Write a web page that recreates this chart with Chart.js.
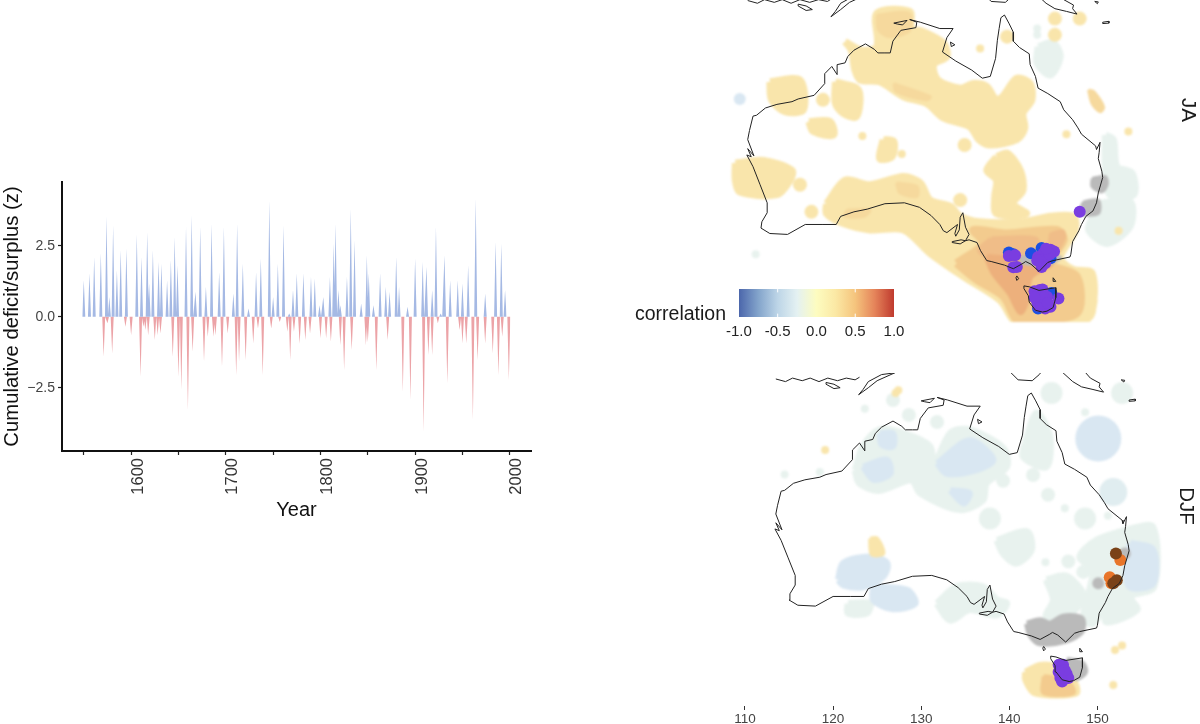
<!DOCTYPE html>
<html><head><meta charset="utf-8">
<style>
html,body{margin:0;padding:0;background:#fff;width:1200px;height:724px;overflow:hidden;font-family:"Liberation Sans",sans-serif}
canvas{position:absolute;display:block}
.soft{filter:blur(0.8px)}
.t{position:absolute;white-space:nowrap;color:#1a1a1a;line-height:1}
</style>
<script src="https://cdn.jsdelivr.net/npm/chart.js@4"></script>
</head><body>
<canvas id="ts" style="left:0;top:170px" width="545" height="360"></canvas>
<canvas id="jaField" class="soft" style="left:730px;top:0" width="440" height="322"></canvas>
<canvas id="ja" style="left:730px;top:0" width="440" height="322"></canvas>
<canvas id="djfField" class="soft" style="left:730px;top:373px" width="440" height="333"></canvas>
<canvas id="djf" style="left:730px;top:373px" width="440" height="351"></canvas>
<canvas id="bar" style="left:720px;top:285px" width="200" height="55"></canvas>
<div class="t" style="left:635px;top:304px;font-size:19.5px">correlation</div>
<div class="t" style="left:1189px;top:110px;font-size:20.5px;transform:translate(-50%,-50%) rotate(90deg)">JA</div>
<div class="t" style="left:1187px;top:506px;font-size:20.5px;transform:translate(-50%,-50%) rotate(90deg)">DJF</div>
<script>
// ---------- time series ----------
const surplusYears=[1550,1556,1561,1568,1574,1577,1581,1585,1589,1595,1606,1611,1617,1619,1623,1629,1632,1638,1642,1646,1649,1658,1664,1668,1673,1679,1685,1693,1698,1708,1712,1718,1724,1732,1737,1746,1750,1755,1761,1767,1771,1775,1782,1790,1794,1799,1803,1810,1814,1816,1819,1821,1828,1832,1836,1843,1849,1851,1856,1863,1869,1873,1880,1883,1892,1900,1908,1912,1918,1922,1927,1931,1937,1945,1950,1956,1964,1974,1985,1991,1995];
const surplusValues=[1.29,1.53,2.11,2.25,3.54,0.7,3.23,1.64,2.35,2.41,2.91,2.11,2.99,1.17,2.35,1.94,1.88,1.29,2.0,2.82,1.82,3.17,3.58,0.88,3.17,1.06,3.29,1.58,3.17,0.82,3.29,1.88,0.29,1.58,2.05,4.11,0.7,1.88,3.23,0.12,0.94,1.53,1.53,1.41,1.35,0.41,0.7,1.41,2.58,3.29,0.94,0.41,1.41,3.82,2.7,0.47,2.17,1.53,0.41,1.53,1.06,0.88,2.11,1.06,0.35,2.05,1.94,1.76,0.94,3.17,0.12,2.17,1.29,1.29,1.17,1.82,4.17,0.82,2.64,2.58,0.94];
const deficitYears=[1571,1575,1580,1594,1600,1610,1613,1615,1618,1625,1628,1631,1644,1650,1653,1660,1665,1677,1681,1687,1689,1696,1702,1711,1714,1721,1729,1734,1739,1748,1757,1765,1768,1772,1778,1784,1789,1800,1806,1811,1821,1825,1833,1848,1850,1859,1871,1887,1895,1909,1914,1918,1924,1934,1947,1950,1954,1961,1966,1974,1982,1988,1992,1999];
const deficitValues=[-1.41,-0.23,-1.29,-0.35,-0.65,-2.11,-0.35,-0.47,-0.65,-0.82,-0.65,-0.59,-1.41,-2.11,-2.58,-3.29,-1.23,-1.58,-0.7,-0.7,-0.65,-1.76,-0.59,-2.05,-1.58,-1.53,-0.94,-0.41,-2.05,-0.41,-0.18,-0.53,-1.53,-0.53,-0.95,-0.82,-0.59,-0.76,-0.76,-0.88,-1.0,-1.88,-1.17,-1.0,-0.9,-1.88,-0.82,-2.64,-2.93,-4.05,-1.35,-1.35,-0.23,-2.35,-0.47,-0.94,-0.94,-3.64,-1.53,-0.94,-1.29,-2.05,-0.7,-2.23];
const yearTicks=[1550,1600,1650,1700,1750,1800,1850,1900,1950,2000];
const zTicks=[-2.5,0,2.5];

// ---------- colour bar ----------
const barValues=[-1,-0.75,-0.5,-0.25,0,0.25,0.5,0.75,1];
const barColors=['#4b66ab','#83a4cb','#bdd5e7','#e4f1f2','#fdfcc0','#fbe8a4','#f5c47d','#e5845a','#bf3a2e'];
const barTicks=[-1,-0.5,0,0.5,1];
const mapLonTicks=[110,120,130,140,150];

// ---------- coastlines (lon, lat) ----------
const australia=[[142.5,-10.7],[143.0,-11.6],[143.5,-12.6],[143.5,-13.6],[144.2,-14.3],[145.3,-15],[145.4,-16.2],[146.0,-17.5],[146.3,-18.8],[147.4,-19.4],[148.8,-20.3],[149.2,-21.2],[150.2,-22.3],[150.8,-23.2],[151.2,-23.9],[152.8,-25.2],[152.9,-25.6],[153.3,-24.8],[153.2,-25.9],[153.1,-26.6],[153.5,-28],[153.6,-28.7],[153.1,-30.4],[152.9,-31.5],[152.5,-32.4],[151.7,-33],[151.2,-33.9],[150.9,-34.6],[150.2,-35.8],[150,-37.2],[149.9,-37.5],[148,-37.9],[147.4,-38.1],[146.4,-39.1],[145.5,-38.3],[144.9,-38],[144.6,-38.2],[143.5,-38.8],[142.5,-38.4],[141,-38],[140.5,-37.9],[139.8,-36.8],[139.4,-35.9],[138.5,-35.6],[138.1,-35.7],[138.5,-35],[138.1,-34.2],[137.8,-32.6],[137.5,-33.1],[137.4,-34.5],[137,-35.2],[136.9,-34.9],[137.2,-33.9],[136,-34.8],[135.6,-34.6],[135.2,-33.9],[134.2,-32.9],[132.9,-32],[131.2,-31.5],[129,-31.6],[127,-32.2],[125.5,-32.5],[124,-33],[123.5,-33.9],[122,-33.9],[120,-33.9],[118,-35],[116,-34.9],[115,-34.3],[115.1,-33.6],[115.7,-32.6],[115.7,-31.5],[114.9,-29.5],[114.1,-27.5],[113.4,-26.2],[113.9,-26.4],[113.5,-25.5],[114.2,-26.3],[113.5,-24.5],[113.7,-23.5],[114.1,-21.9],[114.5,-21.8],[115.5,-21],[116.8,-20.6],[118.5,-20.3],[119.2,-20],[121,-19.6],[122.2,-18.3],[122.2,-17.2],[123,-16.4],[123.6,-17.3],[123.6,-16.2],[124.5,-16],[124.8,-15.3],[125.5,-14.6],[126.8,-13.9],[127.8,-14.5],[128.2,-14.9],[129,-14.9],[129.6,-14.9],[129.9,-13.6],[130.8,-12.4],[132.5,-12.1],[132.6,-11.5],[131.8,-11.2],[133,-11.5],[135.2,-12.2],[136.7,-12.2],[136,-13.2],[135.5,-14.8],[137,-15.8],[138.8,-16.8],[140,-17.7],[140.9,-17.5],[141.5,-15.5],[141.7,-13.5],[141.9,-12.2],[142.1,-11],[142.5,-10.7]];
const tasmania=[[144.7,-40.7],[145.3,-40.8],[146.4,-41.2],[148.3,-40.9],[148.3,-42],[148,-43.1],[147.3,-43.5],[146.8,-43.6],[146,-43.4],[145.3,-42.5],[145.2,-41.8],[144.7,-41],[144.7,-40.7]];
const kangarooIsland=[[136.6,-35.8],[137.6,-35.6],[138.1,-35.7],[137.5,-36.05],[136.6,-35.9],[136.6,-35.8]];
const kingIsland=[[143.9,-39.6],[144.1,-39.9],[143.9,-40.1],[143.8,-39.8],[143.9,-39.6]];
const flindersIsland=[[148,-39.8],[148.3,-40.2],[148,-40.2],[148,-39.8]];
const melvilleIsland=[[130,-11.6],[131.5,-11.3],[131,-11.8],[130.4,-11.7],[130,-11.6]];
const grooteEylandt=[[136.4,-13.7],[136.9,-14],[136.5,-14.2],[136.4,-13.7]];
const sumba=[[119.2,-9.5],[120.1,-9.7],[120.8,-10.1],[120.1,-10.2],[119.2,-9.7],[119.2,-9.5]];
const timor=[[122.9,-10.9],[124,-10.1],[125,-9.3],[127,-8.4],[125.5,-8.6],[124,-9.4],[123.4,-10.3],[122.9,-10.9]];
const floresChain=[[113.5,-9.1],[114.6,-9.4],[115.4,-9.0],[116.5,-9.3],[117.4,-9.0],[118.4,-9.4],[119.4,-9.0],[120.5,-9.3],[121.5,-9.0],[122.5,-9.2],[123,-8.9]];
const guineaSouth=[[140,-8.2],[141,-9.2],[142.6,-9.3],[143.4,-8.6],[144,-7.8]];
const guineaEast=[[146.1,-8.4],[147.2,-9.4],[148.2,-10],[149.5,-10.3],[150.7,-10.6],[150.2,-10.0],[150.3,-9.6],[149.2,-9.0],[148.5,-8.2]];
const rosselIsland=[[153.6,-11.5],[154.3,-11.4],[154.3,-11.6],[153.6,-11.65],[153.6,-11.5]];
const woodlarkIsland=[[152.7,-9.2],[153.1,-9.25],[153,-9.45],[152.7,-9.2]];
const coastParts=[australia,tasmania,kangarooIsland,kingIsland,flindersIsland,melvilleIsland,grooteEylandt,sumba,timor,floresChain,guineaSouth,guineaEast,rosselIsland,woodlarkIsland];

// ---------- JA map regions (lon, lat) ----------
const jaNorth=[[124.5,-13.65],[126.4,-14.6],[128.1,-14.2],[128.1,-10.5],[131.8,-10.3],[132,-12.2],[133.2,-12.5],[135.6,-13.8],[136,-15.3],[134.5,-16.2],[135,-17.9],[137.5,-18.8],[139,-18.3],[140.5,-18.6],[141.6,-20.1],[142.4,-19.6],[143.9,-17.7],[145.4,-18.3],[145.6,-20.1],[144.6,-21.6],[144.8,-23.25],[143.9,-24.5],[140.9,-25.1],[139.6,-24.5],[138.6,-23.1],[135.6,-22.1],[133.7,-20.5],[131.1,-19.75],[128.4,-18.1],[126.2,-17.9],[125.6,-16.8],[125.2,-14.6]];
const jaSouth=[[122.4,-31.6],[124.5,-29],[127.3,-29.5],[131.1,-28.6],[133,-29.3],[134.1,-31.2],[136.4,-31.9],[137.5,-33],[139.7,-33.6],[144.6,-33.6],[147.7,-33],[150.3,-33],[150.5,-34.5],[148.8,-37.5],[149.2,-38.2],[150.3,-38.9],[152.4,-39.3],[152.4,-43.7],[151.2,-44.7],[143.9,-44.7],[142,-42.3],[137.9,-39.7],[134.1,-37.1],[131.1,-34.5],[127.3,-34.5],[124.3,-33.8],[122.4,-32.7]];
const jaCentralEast=[[141.6,-26.4],[142.8,-26],[144.3,-27.9],[144.6,-30.1],[143.5,-31.6],[145,-32.7],[141.6,-32.7],[141.4,-30.8],[141.6,-29],[140.5,-27.9]];
const jaSouthWest=[[112.1,-27.1],[115.3,-26.8],[118.5,-27.9],[118.3,-29],[116.8,-30.6],[112.6,-30.3],[112.1,-29]];
const jaNorthWest=[[116,-18.1],[119.4,-17.9],[119.8,-21.2],[117.7,-21.4],[116.2,-20.1]];
const jaPilbara=[[123.4,-18.1],[126,-19],[125.8,-21.96],[124.3,-21.6],[123.4,-20.5]];
const jaInterior=[[120.4,-22.5],[122.8,-22.5],[123.2,-24],[120.9,-23.6]];
const jaCentre=[[128.8,-24.5],[130,-24.7],[129.8,-26.4],[128.4,-26.6]];
const jaWarmCores=[
 [[128.1,-10.7],[131.7,-10.5],[131.8,-12.4],[129.6,-13.1],[128.3,-12.4]],
 [[130,-18.3],[134.1,-19.75],[133.7,-20.1],[130.3,-19.2]],
 [[130.3,-29.3],[132.6,-29.7],[132.6,-30.8],[130.7,-30.4]],
 [[124.7,-32.3],[127.3,-32.3],[126.6,-33],[124.5,-33]],
 [[152,-19],[152.6,-19.2],[153.7,-20.9],[153.3,-21.4],[152.4,-20.5]]
];
const jaMidBand=[[137.1,-38.2],[140.1,-36],[139,-34.5],[142.8,-34.9],[148.4,-34.5],[149.2,-35.6],[147.7,-38.2],[150.7,-39.7],[150.7,-43.7],[145.4,-44.5],[143.9,-44.5],[142.4,-41.9],[139.4,-40.05]];
const jaHighBand=[[140.5,-37.5],[143.9,-37.8],[147.7,-38.2],[145.4,-39.7],[145,-42.3],[144.3,-43.6],[143.1,-41.5],[141.3,-39.3]];
const jaHighUpper=[[141,-35.5],[146,-35.5],[146,-36.8],[141.5,-37.6],[139.7,-36.8]];
const jaHighEast=[[147.7,-34.9],[149.1,-34.6],[149.3,-35.3],[148.2,-37.1],[147.6,-36.4]];
const jaCoolEastUpper=[[153.9,-24],[154.8,-24.5],[155.2,-27.5],[156.9,-28.2],[157.1,-30.6],[154.4,-30.6],[153.9,-27.5]];
const jaCoolEastLower=[[152.9,-31.6],[156.7,-31.4],[156.7,-34.1],[154.1,-36],[152,-34.5],[152.6,-32.7]];
const jaCoolNorth=[[146.3,-14.2],[148,-13.8],[148.8,-15.3],[147.7,-17.35],[146.2,-16.05]];
const jaGreyAreas=[
 [[152.4,-28.8],[153.9,-28.6],[154.1,-29.5],[153.5,-30.3],[152.4,-29.7]],
 [[151.4,-31.4],[153.1,-31.2],[153.1,-32.7],[151,-32.7]],
 [[144.3,-37.5],[148.8,-37.5],[147.7,-38.2],[144.6,-38.2]]
];
const jaWarmSmall=[[126.45,-24.1],[130.9,-26.1],[139.75,-14.4],[149.5,-23.9],[155.4,-34.6],[152.55,-42.4],[156.5,-23.6]];
const jaWarmLarge=[[120.7,-32.5],[122,-20.1],[138,-25.1],[142.8,-13.1],[148.2,-11.1],[151,-11.1],[148.2,-12.9],[119.4,-29.5],[137.5,-31.2]];
const jaCoolSmall=[[146.2,-12.2],[146.2,-12.9],[114.4,-37.2]];
const jaBlueSmall=[[112.6,-20]];
const jaBlueSites=[[143,-37],[143.5,-37.2],[145.5,-37.1],[146.7,-36.5],[147.7,-37.65],[147.8,-41.5],[146.3,-43.2]];
const jaPurpleSites=[[143,-37.4],[143.7,-37.3],[143.9,-38.6],[143.5,-38.65],[146.3,-37.5],[146.9,-37.1],[147.7,-36.7],[148.1,-36.9],[146.7,-38.6],[147.1,-38.2],[146.5,-41.15],[146.3,-41.7],[146.5,-42.3],[147.1,-42.45],[147.3,-41.9],[148.6,-42.1],[151,-32.5],[146.2,-42.45],[147.1,-43.2],[147.7,-43],[147.2,-37.4],[146.6,-37.9],[147.6,-37.2],[147.2,-36.6],[146.2,-37.9],[146,-41.4],[146.8,-41.1],[146.3,-42.9],[146.9,-42],[147.4,-42.6],[145.9,-41.3],[145.9,-42]];

// ---------- DJF map regions (lon, lat) ----------
const djfNorth=[[122.5,-19.5],[123.4,-16.8],[125.3,-14.9],[128,-15.3],[131,-16.8],[131.4,-19.1],[133.3,-15.3],[135.5,-14.9],[139.3,-17],[139.7,-19.1],[137.4,-21],[137,-22.9],[134.4,-24],[129.9,-22.1],[128.9,-20.6],[125.3,-21.8],[123,-21]];
const djfNorthBlue=[
 [[123.4,-19.1],[126.1,-18.3],[126.5,-19.9],[124.6,-20.6]],
 [[131.8,-18.7],[135.5,-16.1],[138.2,-18.3],[136.3,-19.5],[132.9,-19.9]],
 [[125.3,-15.3],[126.8,-15.3],[126.8,-16.8],[125.5,-16.6]],
 [[133.3,-21.8],[135.5,-22.1],[134.8,-23.3]]
];
const djfPaleAreas=[
 [[141.8,-16.4],[143.1,-13],[144.6,-15.7],[144.2,-19.1],[141.6,-18]],
 [[138.6,-27.5],[142,-26.5],[142.5,-28.6],[140.8,-30.1],[139.3,-29]],
 [[153.3,-26.3],[156.3,-26],[156.4,-32.8],[153.7,-33.9],[154.5,-35.4],[151,-36.8],[151,-34.7],[149.5,-37],[148.4,-36.4],[149.5,-30.9],[148,-29.4],[149.9,-27.5]],
 [[144.2,-32],[146.5,-31.6],[148.4,-33.9],[146.5,-36.2],[144.2,-36.2],[145,-34.3]],
 [[121.7,-34.7],[124.2,-34.7],[123.8,-35.8],[121.7,-35.8]],
 [[131.8,-34.7],[134,-32.8],[137,-32.8],[138.6,-34.3],[139.7,-34.7],[138.6,-36],[135.5,-35.4],[133.3,-36.6]]
];
const djfBlueAreas=[
 [[153.7,-27.85],[156.3,-28.6],[156.3,-32.4],[153.7,-32.8],[153.3,-30.5]],
 [[120.6,-32],[121.2,-30.1],[124.2,-29.4],[126.1,-30.1],[125.7,-31.6],[123.4,-32.8],[121.2,-32.6]],
 [[124.6,-32.8],[128.4,-33.2],[129.3,-34.7],[126.8,-35.3],[124.6,-34.3]]
];
const djfWarmArea=[[141.8,-42.5],[143.5,-41.7],[145.2,-41.9],[147.3,-43.4],[147.6,-44.95],[142.9,-44.95],[141.8,-43.4]];
const djfWarmCore=[[143.9,-43],[146.5,-43.4],[147.3,-44.9],[143.9,-44.9]];
const djfYellowArea=[[124.2,-27.3],[125,-27.3],[125.7,-29],[124.4,-29.1]];
const djfGreyAreas=[
 [[142,-37],[143.5,-36.6],[144.6,-37],[146.1,-36.2],[148.2,-36.4],[148.2,-37.9],[146.5,-38.9],[143.5,-39.25],[142.4,-38.3]],
 [[146.5,-41.15],[148.2,-41.5],[148.6,-42.5],[147.6,-43.2],[146.9,-42.7]]
];
const djfBigCircle=[[150.1,-15.9]];
const djfPaleLarge=[[144.8,-10.7],[152.8,-10.7],[148.6,-25],[137.8,-25]];
const djfPaleMid=[[126.8,-11.5],[128.6,-13.2],[131.8,-14],[139.3,-20.7],[142.7,-20.05],[144.4,-22.3],[146.7,-29.9],[148.4,-31.1]];
const djfPaleSmall=[[114.5,-20],[118.5,-19.7],[148.6,-12.9],[146.3,-23.85],[144.1,-30],[151.2,-24.7],[123.6,-12.5]];
const djfBlueLarge=[[151.8,-22]];
const djfYellowSpots=[[127.4,-10.4],[127.1,-10.7],[119.1,-17.2],[152,-40],[152.8,-39.5],[151.8,-44]];
const djfGreySpots=[[150.1,-32.4],[153.1,-29]];
const djfBrownSites=[[152.1,-29],[151.8,-32.4],[152.2,-32.05]];
const djfOrangeSites=[[152.6,-29.75],[151.4,-31.7],[151.6,-32.4]];
const djfPurpleSites=[[145.6,-41.7],[146.1,-41.7],[146,-42.5],[146.5,-42.7],[145.8,-43.2],[146.7,-43.2],[146.3,-42.3],[146,-43.6],[145.6,-42.5]];

// ---------- helpers ----------
const FONT='"Liberation Sans",sans-serif';
const xy=a=>a.map(p=>({x:p[0],y:p[1]}));
const spikes=(ys,vs)=>{const o=[];ys.forEach((y,i)=>{o.push({x:y-1.6,y:0},{x:y,y:vs[i]},{x:y+1.6,y:0});});return o;};
const area=(pts,color,grow=7)=>({type:'scatter',data:xy([...pts,pts[0]]),showLine:true,fill:'shape',backgroundColor:color,borderColor:color,borderWidth:grow,borderJoinStyle:'round',pointRadius:0,tension:0.3});
const spot=(pts,color,r)=>({type:'scatter',data:xy(pts),showLine:false,pointRadius:r,pointBackgroundColor:color,pointBorderWidth:0,pointBorderColor:color});
const coast=parts=>parts.map(p=>({type:'scatter',data:xy(p),showLine:true,fill:false,borderColor:'#222',borderWidth:1,pointRadius:0,tension:0}));
const base={responsive:false,animation:false,events:[],plugins:{legend:{display:false},tooltip:{enabled:false},title:{display:false}}};
const hiddenAxes=(x0,x1,y0,y1)=>({x:{type:'linear',display:false,min:x0,max:x1},y:{type:'linear',display:false,min:y0,max:y1}});

// ---------- time-series chart ----------
new Chart(document.getElementById('ts'),{type:'scatter',
 data:{datasets:[
  {data:spikes(surplusYears,surplusValues),showLine:true,fill:'origin',backgroundColor:'#a5b9e4',borderWidth:0,pointRadius:0,tension:0},
  {data:spikes(deficitYears,deficitValues),showLine:true,fill:'origin',backgroundColor:'#eca3a7',borderWidth:0,pointRadius:0,tension:0}
 ]},
 options:{...base,layout:{autoPadding:false,padding:{top:12,right:14,bottom:0,left:0}},
  scales:{
   x:{type:'linear',min:1527,max:2022.4,grid:{drawOnChartArea:false,tickLength:4,tickColor:'#222',tickWidth:1.2},border:{color:'#111',width:2},
      afterBuildTicks:s=>{s.ticks=yearTicks.map(v=>({value:v}));},
      afterFit:s=>{s.height=79;},
      ticks:{autoSkip:false,maxRotation:90,minRotation:90,labelOffset:7,padding:3,color:'#333',font:{size:16.5,family:FONT},callback:v=>v%100===0?String(v):''},
      title:{display:true,text:'Year',color:'#111',font:{size:20,family:FONT},padding:{top:0,bottom:8}}},
   y:{type:'linear',min:-4.73,max:4.75,grid:{drawOnChartArea:false,tickLength:4,tickColor:'#222',tickWidth:1.2},border:{color:'#111',width:2},
      afterBuildTicks:s=>{s.ticks=zTicks.map(v=>({value:v}));},
      afterFit:s=>{s.width=62;},
      ticks:{padding:3,color:'#444',font:{size:14,family:FONT},callback:v=>v<0?'\u2212'+Math.abs(v).toFixed(1):v.toFixed(1)},
      title:{display:true,text:'Cumulative deficit/surplus (z)',color:'#111',font:{size:20.3,family:FONT},padding:{top:0,bottom:2}}}
  }}});

// ---------- palette used on the maps ----------
const PALE='#f9e5ab',STEP='#f6d99d',MID='#f3cb8e',UPPER='#f0bd88',HIGH='#edb07c',COOL='#e8f2ee',SOFTBLUE='#e0edf0',BLUE='#d9e7f2',GREY='#bababa';

// ---------- JA map: shaded field + coast and sites ----------
const jaField=[
 area(jaNorth,PALE),area(jaSouth,PALE),area(jaCentralEast,PALE),area(jaSouthWest,PALE),area(jaNorthWest,PALE),area(jaPilbara,PALE),area(jaInterior,PALE),area(jaCentre,PALE),
 ...jaWarmCores.map(p=>area(p,STEP,3)),
 area(jaMidBand,MID,8),area(jaHighUpper,UPPER,5),area(jaHighEast,UPPER,3),area(jaHighBand,HIGH,6),
 area(jaCoolEastUpper,COOL),area(jaCoolEastLower,COOL),area(jaCoolNorth,COOL),
 ...jaGreyAreas.map(p=>area(p,GREY,3)),
 spot(jaWarmSmall,PALE,4),spot(jaWarmLarge,PALE,7),spot(jaCoolSmall,COOL,4),spot(jaBlueSmall,BLUE,6)
];
new Chart(document.getElementById('jaField'),{type:'scatter',data:{datasets:jaField.reverse()},
 options:{...base,layout:{autoPadding:false,padding:0},scales:hiddenAxes(111.5,161.2,-44.7,-9.04)}});
const jaMarks=[spot(jaBlueSites,'#1c50e2',6),spot(jaPurpleSites,'#7a3de0',6),...coast(coastParts)];
new Chart(document.getElementById('ja'),{type:'scatter',data:{datasets:jaMarks.reverse()},
 options:{...base,layout:{autoPadding:false,padding:0},scales:hiddenAxes(111.5,161.2,-44.7,-9.04)}});

// ---------- DJF map: shaded field + coast and sites ----------
const djfField=[
 area(djfNorth,COOL),...djfNorthBlue.map(p=>area(p,BLUE,6)),...djfPaleAreas.map(p=>area(p,COOL)),...djfBlueAreas.map(p=>area(p,BLUE)),
 area(djfYellowArea,PALE,4),area(djfWarmArea,PALE,6),area(djfWarmCore,MID,4),
 ...djfGreyAreas.map(p=>area(p,GREY,6)),
 spot(djfBigCircle,BLUE,23),spot(djfPaleLarge,COOL,11),spot(djfPaleMid,COOL,7),spot(djfPaleSmall,COOL,4),spot(djfBlueLarge,SOFTBLUE,14),
 spot(djfYellowSpots,PALE,4),spot(djfGreySpots,GREY,6)
];
new Chart(document.getElementById('djfField'),{type:'scatter',data:{datasets:djfField.reverse()},
 options:{...base,layout:{autoPadding:false,padding:0},scales:hiddenAxes(108.3,158.24,-46.39,-8.42)}});
const djfMarks=[spot(djfOrangeSites,'#e8752a',6),spot(djfBrownSites,'#7a4218',6),spot(djfPurpleSites,'#7a3de0',6),...coast(coastParts)];
new Chart(document.getElementById('djf'),{type:'scatter',data:{datasets:djfMarks.reverse()},
 options:{...base,layout:{autoPadding:false,padding:0},scales:{
  x:{type:'linear',min:108.3,max:158.24,grid:{drawOnChartArea:false,tickLength:4,tickColor:'#333'},border:{display:false},
     afterBuildTicks:s=>{s.ticks=mapLonTicks.map(v=>({value:v}));},afterFit:s=>{s.height=18;},
     ticks:{autoSkip:false,maxRotation:0,padding:1,color:'#444',font:{size:13.5,family:FONT}}},
  y:{type:'linear',display:false,min:-46.39,max:-8.42}}}});

// ---------- colour bar ----------
new Chart(document.getElementById('bar'),{type:'scatter',
 data:{datasets:[
  {data:[{x:-0.5,y:0},{x:-0.5,y:0.12}],showLine:true,borderColor:'#fff',borderWidth:1,pointRadius:0},
  {data:[{x:-0.5,y:0.88},{x:-0.5,y:1}],showLine:true,borderColor:'#fff',borderWidth:1,pointRadius:0},
  {data:[{x:0.5,y:0},{x:0.5,y:0.12}],showLine:true,borderColor:'#fff',borderWidth:1,pointRadius:0},
  {data:[{x:0.5,y:0.88},{x:0.5,y:1}],showLine:true,borderColor:'#fff',borderWidth:1,pointRadius:0},
  {data:[{x:-1,y:1},{x:1,y:1}],showLine:true,fill:'origin',borderWidth:0,pointRadius:0,
   backgroundColor:c=>{const a=c.chart.chartArea;if(!a)return '#ccc';const g=c.chart.ctx.createLinearGradient(a.left,0,a.right,0);barValues.forEach((v,i)=>g.addColorStop((v+1)/2,barColors[i]));return g;}}
 ]},
 options:{...base,layout:{autoPadding:false,padding:{left:18,right:26,top:4,bottom:0}},
  scales:{
   x:{type:'linear',min:-1,max:1,grid:{display:false,drawTicks:false},border:{display:false},
      afterBuildTicks:s=>{s.ticks=barTicks.map(v=>({value:v}));},afterFit:s=>{s.height=23;},
      ticks:{autoSkip:false,maxRotation:0,padding:6,color:'#222',font:{size:15,family:FONT},callback:v=>v.toFixed(1)}},
   y:{type:'linear',display:false,min:0,max:1}}}});
</script>
</body></html>
